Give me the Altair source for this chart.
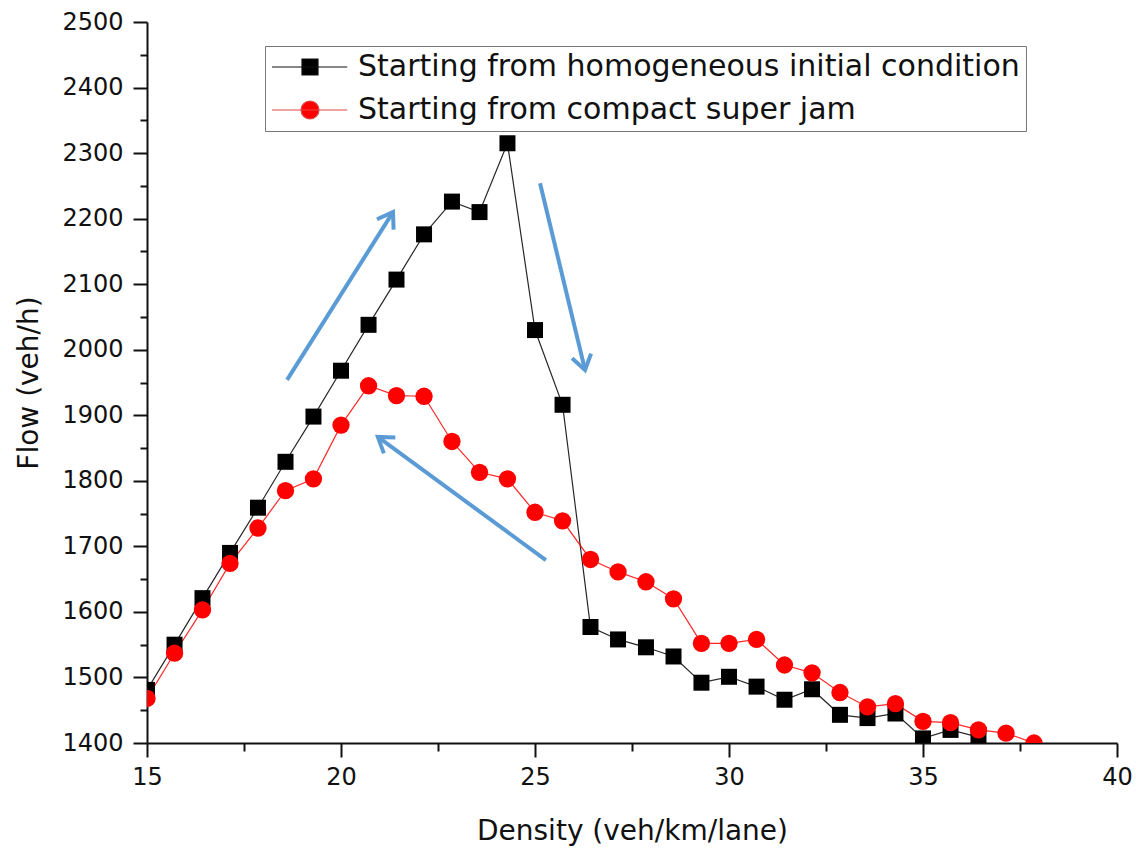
import altair as alt
import pandas as pd

# ---------------- data ----------------
density = [15.0, 15.71, 16.43, 17.14, 17.86, 18.57, 19.29, 20.0, 20.71, 21.43,
           22.14, 22.86, 23.57, 24.29, 25.0, 25.71, 26.43, 27.14, 27.86, 28.57,
           29.29, 30.0, 30.71, 31.43, 32.14, 32.86, 33.57, 34.29, 35.0, 35.71,
           36.43, 37.14, 37.86]

flow_homogeneous = [1481, 1550, 1621, 1690, 1759, 1829, 1898, 1968, 2038, 2107,
                    2176, 2226, 2210, 2315, 2030, 1916, 1577, 1558, 1546, 1532,
                    1492, 1501, 1486, 1466, 1482, 1443, 1438, 1445, 1407, 1420,
                    1409]

flow_super_jam = [1468, 1537, 1603, 1674, 1728, 1785, 1803, 1885, 1945, 1930,
                  1929, 1860, 1813, 1803, 1752, 1739, 1680, 1661, 1646, 1620,
                  1552, 1552, 1558, 1519, 1507, 1477, 1455, 1460, 1433, 1431,
                  1420, 1415, 1400]

series_names = ["Starting from homogeneous initial condition",
                "Starting from compact super jam"]

x_major_ticks = [15, 20, 25, 30, 35, 40]
x_minor_ticks = [17.5, 22.5, 27.5, 32.5, 37.5]
y_major_ticks = list(range(1400, 2501, 100))
y_minor_ticks = list(range(1450, 2500, 100))

# blue annotation arrows (tail -> tip, in data units) and head direction (deg, clockwise from up)
arrow_x0 = [18.61, 25.13, 25.28]
arrow_y0 = [1954, 2254, 1679]
arrow_x1 = [21.34, 26.29, 20.95]
arrow_y1 = [2210, 1969, 1867]
arrow_angle = [32, 166, 306]

# ---------------- tables ----------------
rows = []
for d, f in zip(density, flow_homogeneous):
    rows.append({"density": d, "flow": f, "series": series_names[0]})
for d, f in zip(density, flow_super_jam):
    rows.append({"density": d, "flow": f, "series": series_names[1]})
df = pd.DataFrame(rows)

arrows = pd.DataFrame({"x0": arrow_x0, "y0": arrow_y0, "x1": arrow_x1,
                       "y1": arrow_y1, "ang": arrow_angle})

FONT = "DejaVu Sans"
BLUE = "#5B9BD5"
INK = "#111111"

x_scale = alt.Scale(domain=[15, 40], nice=False, zero=False)
y_scale = alt.Scale(domain=[1400, 2500], nice=False, zero=False)

x_axis = alt.Axis(
    orient="bottom", values=x_major_ticks, format="d", tickSize=14,
    tickWidth=2, tickColor=INK, domainWidth=2, domainColor=INK,
    labelFont=FONT, labelFontSize=24, labelColor=INK, labelPadding=8,
    labelFlush=False, labelOverlap=False, grid=False,
    title="Density (veh/km/lane)", titleFont=FONT, titleFontSize=28,
    titleFontWeight="normal", titleColor=INK, titlePadding=28,
)
y_axis = alt.Axis(
    orient="left", values=y_major_ticks, format="d", tickSize=14,
    tickWidth=2, tickColor=INK, domainWidth=2, domainColor=INK,
    labelFont=FONT, labelFontSize=24, labelColor=INK, labelPadding=10,
    labelFlush=False, labelOverlap=False, grid=False,
    title="Flow (veh/h)", titleFont=FONT, titleFontSize=28,
    titleFontWeight="normal", titleColor=INK, titlePadding=18,
)
x_minor_axis = alt.Axis(orient="bottom", values=x_minor_ticks, tickSize=8, tickWidth=2,
                        tickColor=INK, labels=False, domain=False, grid=False, title=None)
y_minor_axis = alt.Axis(orient="left", values=y_minor_ticks, tickSize=7, tickWidth=2,
                        tickColor=INK, labels=False, domain=False, grid=False, title=None)

color_scale = alt.Scale(domain=series_names, range=["#000000", "#ff0000"])

lines = alt.Chart(df).mark_line(strokeWidth=1.2, opacity=0.85, clip=True).encode(
    x=alt.X("density:Q", scale=x_scale, axis=x_axis),
    y=alt.Y("flow:Q", scale=y_scale, axis=y_axis),
    color=alt.Color("series:N", scale=color_scale, legend=None),
)

minor = alt.Chart(df).mark_point(opacity=0).encode(
    x=alt.X("density:Q", scale=x_scale, axis=x_minor_axis),
    y=alt.Y("flow:Q", scale=y_scale, axis=y_minor_axis),
)

points = alt.Chart(df).mark_point(filled=True, opacity=1, clip=True).encode(
    x=alt.X("density:Q", scale=x_scale, axis=None),
    y=alt.Y("flow:Q", scale=y_scale, axis=None),
    color=alt.Color("series:N", scale=color_scale, legend=None),
    shape=alt.Shape("series:N", scale=alt.Scale(domain=series_names, range=["square", "circle"]), legend=None),
    size=alt.Size("series:N", scale=alt.Scale(domain=series_names, range=[256, 300]), legend=None),
)

shafts = alt.Chart(arrows).mark_rule(color=BLUE, strokeWidth=4).encode(
    x=alt.X("x0:Q", axis=None), y=alt.Y("y0:Q", axis=None),
    x2="x1:Q", y2="y1:Q",
)

head_path = "M -0.56 0.83 L 0 0 L 0.56 0.83"
heads = alt.Chart(arrows).mark_point(
    shape=head_path, filled=False, stroke=BLUE, strokeWidth=4, size=1225, opacity=1
).encode(
    x=alt.X("x1:Q", axis=None), y=alt.Y("y1:Q", axis=None),
    angle=alt.Angle("ang:Q", scale=None),
)

# legend: symbols with a line running through them
sq_path = "M -4.75 0 L 4.65 0 M -1 -1 L 1 -1 L 1 1 L -1 1 Z"
circ_path = ("M -4.75 0 L 4.65 0 M -1.125 0 A 1.125 1.125 0 1 0 1.125 0 "
             "A 1.125 1.125 0 1 0 -1.125 0 Z")

leg = alt.Legend(
    title=None, orient="none", legendX=118, legendY=24,
    symbolSize=256, symbolOffset=24, symbolStrokeWidth=1.2,
    labelFont=FONT, labelFontSize=30, labelColor=INK, labelOffset=33,
    labelLimit=0, rowPadding=13, padding=6,
    strokeColor="#777", fillColor="white",
)

legend_layer = alt.Chart(df).mark_point(opacity=1).encode(
    shape=alt.Shape("series:N", scale=alt.Scale(domain=series_names, range=[sq_path, circ_path]), legend=leg),
    fill=alt.Fill("series:N", scale=alt.Scale(domain=series_names, range=["#000000", "#ff0000"]), legend=leg),
    stroke=alt.Stroke("series:N", scale=alt.Scale(domain=series_names, range=["#111111", "#e04a4a"]), legend=leg),
).transform_filter("false")

chart = alt.layer(minor, lines, points, shafts, heads, legend_layer).resolve_scale(
    shape="independent", fill="independent", stroke="independent", size="independent"
).resolve_axis(
    x="independent", y="independent"
).properties(
    width=970, height=721,
    padding={"left": 147, "top": 22, "right": 19, "bottom": 111},
    autosize=alt.AutoSizeParams(type="none"),
    background="white",
).configure_view(stroke=None)

chart.save("out.html", embed_options={"renderer": "svg", "actions": False})
